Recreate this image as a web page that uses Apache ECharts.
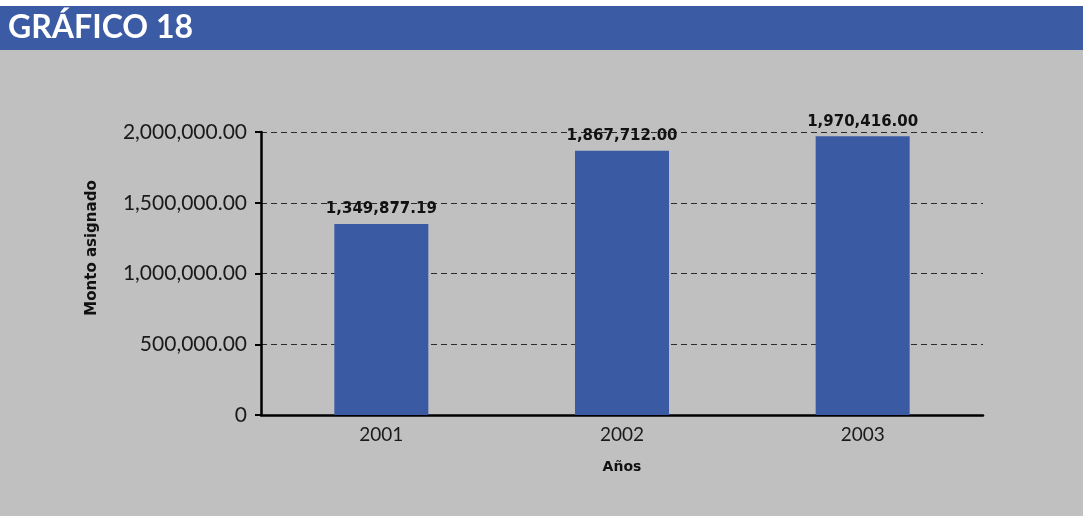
<!DOCTYPE html>
<html>
<head>
<meta charset="utf-8">
<script src="https://cdn.jsdelivr.net/npm/echarts@6/dist/echarts.min.js"></script>
<style>
  html, body { margin: 0; padding: 0; background: #c0c0c0; }
  #chart { width: 1083px; height: 516px; }
</style>
</head>
<body>
<div id="chart"></div>
<script>
// Monto asignado por año
const years = ['2001', '2002', '2003'];
const amounts = [1349877.19, 1867712.00, 1970416.00];
const yTicks = [0, 500000, 1000000, 1500000, 2000000];

const fmt = v => v === 0 ? '0' :
  v.toLocaleString('en-US', { minimumFractionDigits: 2, maximumFractionDigits: 2 });

const chart = echarts.init(document.getElementById('chart'), null, { renderer: 'canvas' });

chart.setOption({
  backgroundColor: '#c0c0c0',
  animation: false,
  graphic: [
    { type: 'rect', left: 0, top: 0, shape: { width: 1083, height: 6 }, style: { fill: '#ffffff' } },
    { type: 'rect', left: 0, top: 6, shape: { width: 1083, height: 44 }, style: { fill: '#3b5ba4' } },
    {
      type: 'text', left: 8, top: 12,
      style: { text: 'GRÁFICO 18', fill: '#ffffff', font: 'bold 32px Lato, "Open Sans", sans-serif' }
    },
    {
      // vertical title of the value axis
      type: 'text', x: 92, y: 248, rotation: Math.PI / 2,
      style: {
        text: 'Monto asignado', fill: '#111',
        font: 'bold 15px "DejaVu Sans", sans-serif',
        textAlign: 'center', textVerticalAlign: 'middle'
      }
    }
  ],
  grid: { left: 261, right: 100, top: 132, bottom: 101 },
  xAxis: {
    type: 'category',
    data: years,
    name: 'Años',
    nameLocation: 'middle',
    nameGap: 45,
    nameTextStyle: { fontFamily: '"DejaVu Sans", sans-serif', fontWeight: 'bold', fontSize: 14, color: '#111' },
    axisLine: { lineStyle: { color: '#000', width: 2.5 } },
    axisTick: { alignWithLabel: true, length: 6, lineStyle: { color: '#000', width: 2 } },
    axisLabel: { fontFamily: 'Lato, sans-serif', fontSize: 19, color: '#1a1a1a', margin: 10 }
  },
  yAxis: {
    type: 'value',
    min: 0,
    max: yTicks[yTicks.length - 1],
    interval: yTicks[1] - yTicks[0],
    axisLine: { show: true, lineStyle: { color: '#000', width: 2.5 } },
    axisTick: { show: true, length: 6, lineStyle: { color: '#000', width: 2 } },
    axisLabel: {
      fontFamily: 'Lato, sans-serif', fontSize: 21, color: '#1a1a1a', margin: 14,
      formatter: v => fmt(v)
    },
    splitLine: { lineStyle: { color: '#2a2a2a', type: [6, 4], width: 1.2 } }
  },
  series: [{
    type: 'bar',
    data: amounts,
    barWidth: 94,
    itemStyle: { color: '#3a5ba3' },
    label: {
      show: true,
      position: 'top',
      distance: 7,
      formatter: p => fmt(p.value),
      fontFamily: '"DejaVu Sans", sans-serif',
      fontWeight: 'bold',
      fontSize: 15,
      color: '#111'
    }
  }]
});
</script>
</body>
</html>
